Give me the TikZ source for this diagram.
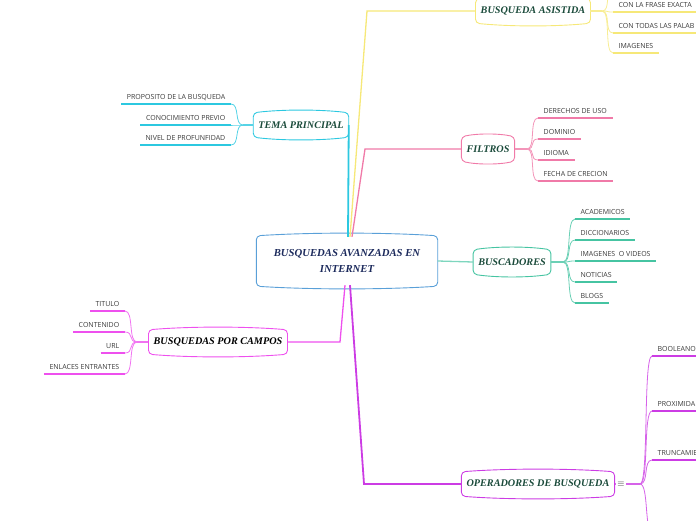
\documentclass[tikz,border=0pt]{standalone}
\usepackage{fontspec}
\setmainfont{Liberation Serif}
\newfontfamily\leaffont{Open Sans}
\usetikzlibrary{positioning, calc}
\definecolor{topictext}{HTML}{1B4B3B}
\definecolor{roottext}{HTML}{1C2A5C}
\definecolor{leaftext}{HTML}{3A3A3A}
\definecolor{rootline}{HTML}{5AA0D8}
\definecolor{asistline}{HTML}{F6E878}
\definecolor{temaline}{HTML}{2CC8E0}
\definecolor{filtline}{HTML}{F07AA8}
\definecolor{buscline}{HTML}{46C4A2}
\definecolor{campline}{HTML}{EE50EE}
\definecolor{operline}{HTML}{CC3CE4}

\tikzset{
    barrel/.style={append after command={\pgfextra{
        \draw[draw=#1, line width=0.9pt, rounded corners=4pt]
        (\tikzlastnode.north west)
        .. controls ($(\tikzlastnode.north west)!0.3!(\tikzlastnode.north east)+(0,3.5pt)$)
        and ($(\tikzlastnode.north west)!0.7!(\tikzlastnode.north east)+(0,3.5pt)$) .. (\tikzlastnode.north east)
        -- (\tikzlastnode.south east)
        .. controls ($(\tikzlastnode.south west)!0.7!(\tikzlastnode.south east)+(0,-3.5pt)$)
        and ($(\tikzlastnode.south west)!0.3!(\tikzlastnode.south east)+(0,-3.5pt)$) .. (\tikzlastnode.south west)
        -- cycle;}}},
    topic/.style={barrel=#1, font=\bfseries\itshape\fontsize{10.2}{12}\selectfont, text=topictext,
        minimum height=24pt, inner xsep=5pt, inner ysep=0pt},
    leaf/.style={font=\leaffont\fontsize{7}{8}\selectfont, text=leaftext, inner xsep=5.5pt,
        inner ysep=4.5pt, text height=5pt, text depth=0pt,
        append after command={\pgfextra{
            \draw[draw=#1, line width=1.6pt] (\tikzlastnode.south west) -- (\tikzlastnode.south east);}}},
    trunk/.style={draw=#1, line width=1.3pt},
    twig/.style={draw=#1!80, line width=0.8pt, distance=9pt},
}

\begin{document}
\begin{tikzpicture}[x=1pt, y=-1pt]
    \useasboundingbox (0,0) rectangle (696,520);
    \clip (0,0) rectangle (696,520);

    \coordinate (asistbend) at (367,11);
    \coordinate (filtbend) at (365,149);
    \coordinate (campbend) at (340,342);
    \coordinate (operbend) at (364,484);

    \node[barrel=rootline, text=roottext, font=\bfseries\itshape\fontsize{10.7}{16}\selectfont,
        align=center, minimum width=181pt, minimum height=50pt, inner sep=0pt] (root) at (347,261)
        {BUSQUEDAS AVANZADAS EN\\INTERNET};

    \node[topic=asistline] (asist) at (533,11) {BUSQUEDA ASISTIDA};
    \node[topic=temaline] (tema) at (301,125) {TEMA PRINCIPAL};
    \node[topic=filtline] (filt) at (488,149) {FILTROS};
    \node[topic=buscline] (busc) at (512,262) {BUSCADORES};
    \node[topic=campline, text=black] (camp) at (218,342) {BUSQUEDAS POR CAMPOS};
    \node[topic=operline] (oper) at (538,484) {OPERADORES DE BUSQUEDA};
    \node[text=leaftext!80!black, font=\fontsize{9}{9}\selectfont, inner sep=1pt] (opericon) at (621,484) {$\equiv$};

    \draw[trunk=temaline, line width=1.8pt] ($(root.north)+(1pt,-1pt)$) -- (tema.east);
    \draw[trunk=asistline] ($(root.north)+(3pt,-1pt)$) -- (asistbend) -- (asist.west);
    \draw[trunk=filtline] ($(root.north)+(5pt,-1pt)$) -- (filtbend) -- (filt.west);
    \draw[trunk=buscline!70] (root.east) -- (busc.west);
    \draw[trunk=campline] ($(root.south)+(-2pt,1pt)$) -- (campbend) -- (camp.east);
    \draw[trunk=operline, line width=1.8pt] ($(root.south)+(3pt,1pt)$) -- (operbend) -- (oper.west);

    \coordinate (asistfork) at (602,11);
    \coordinate (temafork) at (243,125);
    \coordinate (filtfork) at (527,149);
    \coordinate (buscfork) at (563,262);
    \coordinate (campfork) at (137,342);
    \coordinate (operfork) at (640,484);

    \node[leaf=asistline, anchor=south west] (asist1) at (613,12) {CON LA FRASE EXACTA};
    \node[leaf=asistline, anchor=south west] (asist2) at (613,33) {CON TODAS LAS PALAB};
    \node[leaf=asistline, anchor=south west] (asist3) at (613,53) {IMAGENES};
    \coordinate (asist0) at (613,-9);

    \node[leaf=temaline, anchor=south east] (tema1) at (231,104) {PROPOSITO DE LA BUSQUEDA};
    \node[leaf=temaline, anchor=south east] (tema2) at (231,125) {CONOCIMIENTO PREVIO};
    \node[leaf=temaline, anchor=south east] (tema3) at (231,145) {NIVEL DE PROFUNFIDAD};

    \node[leaf=filtline, anchor=south west] (filt1) at (538,118) {DERECHOS DE USO};
    \node[leaf=filtline, anchor=south west] (filt2) at (538,139) {DOMINIO};
    \node[leaf=filtline, anchor=south west] (filt3) at (538,160) {IDIOMA};
    \node[leaf=filtline, anchor=south west] (filt4) at (538,181) {FECHA DE CRECION};

    \node[leaf=buscline, anchor=south west] (busc1) at (575,219) {ACADEMICOS};
    \node[leaf=buscline, anchor=south west] (busc2) at (575,240) {DICCIONARIOS};
    \node[leaf=buscline, anchor=south west] (busc3) at (575,261) {IMAGENES \ O VIDEOS};
    \node[leaf=buscline, anchor=south west] (busc4) at (575,282) {NOTICIAS};
    \node[leaf=buscline, anchor=south west] (busc5) at (575,303) {BLOGS};

    \node[leaf=campline, anchor=south east] (camp1) at (125,311) {TITULO};
    \node[leaf=campline, anchor=south east] (camp2) at (125,332) {CONTENIDO};
    \node[leaf=campline, anchor=south east] (camp3) at (125,353) {URL};
    \node[leaf=campline, anchor=south east] (camp4) at (125,374) {ENLACES ENTRANTES};

    \node[leaf=operline, anchor=south west, text width=60pt] (oper1) at (652,356) {BOOLEANO};
    \node[leaf=operline, anchor=south west, text width=60pt] (oper2) at (652,411) {PROXIMIDA};
    \node[leaf=operline, anchor=south west, text width=60pt] (oper3) at (652,460) {TRUNCAMIE};
    \coordinate (oper4) at (653,534);

    \draw[twig=asistline, line width=1.2pt] (asist.east) -- (asistfork);
    \draw[twig=asistline] (asistfork) to[out=0, in=180] (asist0);
    \draw[twig=asistline] (asistfork) to[out=0, in=180] (asist1.south west);
    \draw[twig=asistline] (asistfork) to[out=0, in=180] (asist2.south west);
    \draw[twig=asistline] (asistfork) to[out=0, in=180] (asist3.south west);

    \draw[twig=temaline, line width=1.2pt] (tema.west) -- (temafork);
    \draw[twig=temaline] (temafork) to[out=180, in=0] (tema1.south east);
    \draw[twig=temaline] (temafork) to[out=180, in=0] (tema2.south east);
    \draw[twig=temaline] (temafork) to[out=180, in=0] (tema3.south east);

    \draw[twig=filtline, line width=1.2pt] (filt.east) -- (filtfork);
    \draw[twig=filtline] (filtfork) to[out=0, in=180] (filt1.south west);
    \draw[twig=filtline] (filtfork) to[out=0, in=180] (filt2.south west);
    \draw[twig=filtline] (filtfork) to[out=0, in=180] (filt3.south west);
    \draw[twig=filtline] (filtfork) to[out=0, in=180] (filt4.south west);

    \draw[twig=buscline, line width=1.2pt] (busc.east) -- (buscfork);
    \draw[twig=buscline] (buscfork) to[out=0, in=180] (busc1.south west);
    \draw[twig=buscline] (buscfork) to[out=0, in=180] (busc2.south west);
    \draw[twig=buscline] (buscfork) to[out=0, in=180] (busc3.south west);
    \draw[twig=buscline] (buscfork) to[out=0, in=180] (busc4.south west);
    \draw[twig=buscline] (buscfork) to[out=0, in=180] (busc5.south west);

    \draw[twig=campline, line width=1.2pt] (camp.west) -- (campfork);
    \draw[twig=campline] (campfork) to[out=180, in=0] (camp1.south east);
    \draw[twig=campline] (campfork) to[out=180, in=0] (camp2.south east);
    \draw[twig=campline] (campfork) to[out=180, in=0] (camp3.south east);
    \draw[twig=campline] (campfork) to[out=180, in=0] (camp4.south east);

    \draw[twig=operline, line width=1.2pt] (oper.east) -- (opericon.west);
    \draw[twig=operline, line width=1.2pt] (opericon.east) -- (operfork);
    \draw[twig=operline] (operfork) to[out=0, in=180] (oper1.south west);
    \draw[twig=operline] (operfork) to[out=0, in=180] (oper2.south west);
    \draw[twig=operline] (operfork) to[out=0, in=180] (oper3.south west);
    \draw[twig=operline] (operfork) to[out=0, in=180] (oper4);
\end{tikzpicture}
\end{document}
